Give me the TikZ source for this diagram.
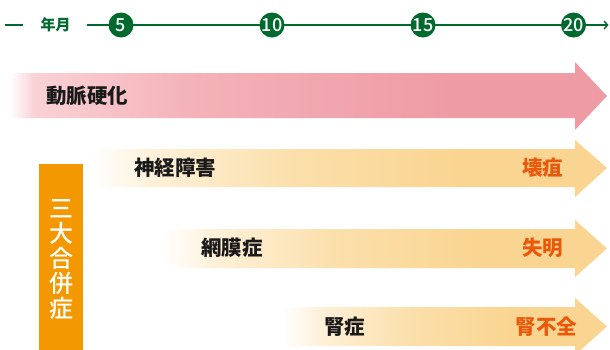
\documentclass[tikz,border=0pt]{standalone}
\usepackage{fontspec}
\setmainfont{Noto Sans CJK JP}
\newfontfamily\jpmed{Noto Sans CJK JP Medium}
\usetikzlibrary{arrows.meta}
\definecolor{tlgreen}{HTML}{006A2E}
\definecolor{boxorange}{HTML}{F39800}
\definecolor{txtorange}{HTML}{E8590C}
\definecolor{txtdark}{HTML}{1A1A1A}
\definecolor{pinkA}{HTML}{F9D2D6}
\definecolor{pinkB}{HTML}{F4B2B9}
\definecolor{pinkfull}{HTML}{EF9BA5}
\definecolor{yelA}{HTML}{FEF0D8}
\definecolor{yelB}{HTML}{FBDFAA}
\definecolor{yelfull}{HTML}{FAD592}
\pgfdeclarehorizontalshading{pinkshade}{100bp}{color(0bp)=(white); color(25bp)=(white); color(27bp)=(pinkA); color(40bp)=(pinkB); color(62bp)=(pinkfull); color(100bp)=(pinkfull)}
\pgfdeclarehorizontalshading{yelshade}{100bp}{color(0bp)=(white); color(25bp)=(white); color(31bp)=(yelA); color(45bp)=(yelB); color(60bp)=(yelfull); color(100bp)=(yelfull)}
\tikzset{
  tl/.style={draw=tlgreen, line width=1.6pt},
  yearnode/.style={circle, fill=tlgreen, minimum size=25pt, inner sep=0pt, text=white, font=\jpmed\fontsize{18}{18}\selectfont},
  lbl/.style={inner sep=0pt, anchor=west, text=txtdark, font=\bfseries\fontsize{20.5}{22}\selectfont},
  endlbl/.style={inner sep=0pt, text=txtorange, font=\bfseries\fontsize{20.5}{22}\selectfont},
}
\begin{document}
\begin{tikzpicture}[x=1pt,y=-1pt]
\useasboundingbox (0,0) rectangle (610,349);
\begin{scope}
\clip (0,0) rectangle (610,349);
% arrows
\shade[shading=pinkshade] (10,73) -- (575,73) -- (575,62) -- (607,96) -- (575,130) -- (575,118) -- (10,118) -- cycle;
\shade[shading=yelshade] (92,149) -- (575,149) -- (575,140) -- (607,168) -- (575,197) -- (575,187) -- (92,187) -- cycle;
\shade[shading=yelshade] (163,229) -- (575,229) -- (575,220) -- (607,248.5) -- (575,277) -- (575,268) -- (163,268) -- cycle;
\shade[shading=yelshade] (283,307) -- (575,307) -- (575,298) -- (607,326.5) -- (575,355) -- (575,346) -- (283,346) -- cycle;
% orange box
\fill[boxorange] (39,164) rectangle (83,352);
\end{scope}
\node[inner sep=0pt, text=white, align=center, font=\jpmed\fontsize{24}{25}\selectfont] (sg) at (61,259.5) {三\\大\\合\\併\\症};
% labels
\node[lbl] (dm) at (46,96) {動脈硬化};
\node[lbl] (sk) at (134,168) {神経障害};
\node[lbl] (mm) at (201,248) {網膜症};
\node[lbl] (js) at (324,327) {腎症};
\node[endlbl] (ez) at (542.5,168) {壊疽};
\node[endlbl] (sm) at (542.5,248) {失明};
\node[endlbl] (fz) at (546.5,327) {腎不全};
% timeline
\coordinate (dl) at (5,25);
\coordinate (dr) at (23,25);
\draw[tl] (dl) -- (dr);
\node[inner sep=0pt, text=tlgreen, font=\bfseries\fontsize{15}{15}\selectfont] (ym) at (55.5,25) {年月};
\coordinate (tls) at (87,25);
\coordinate (tle) at (608.5,25);
\draw[tl, -{Straight Barb[length=3.5pt,width=8pt,line width=1.4pt]}] (tls) -- (tle);
\node[yearnode] (y5) at (121,25) {5};
\node[yearnode] (y10) at (272,25) {10};
\node[yearnode] (y15) at (423,25) {15};
\node[yearnode] (y20) at (573.5,25) {20};
\end{tikzpicture}
\end{document}
